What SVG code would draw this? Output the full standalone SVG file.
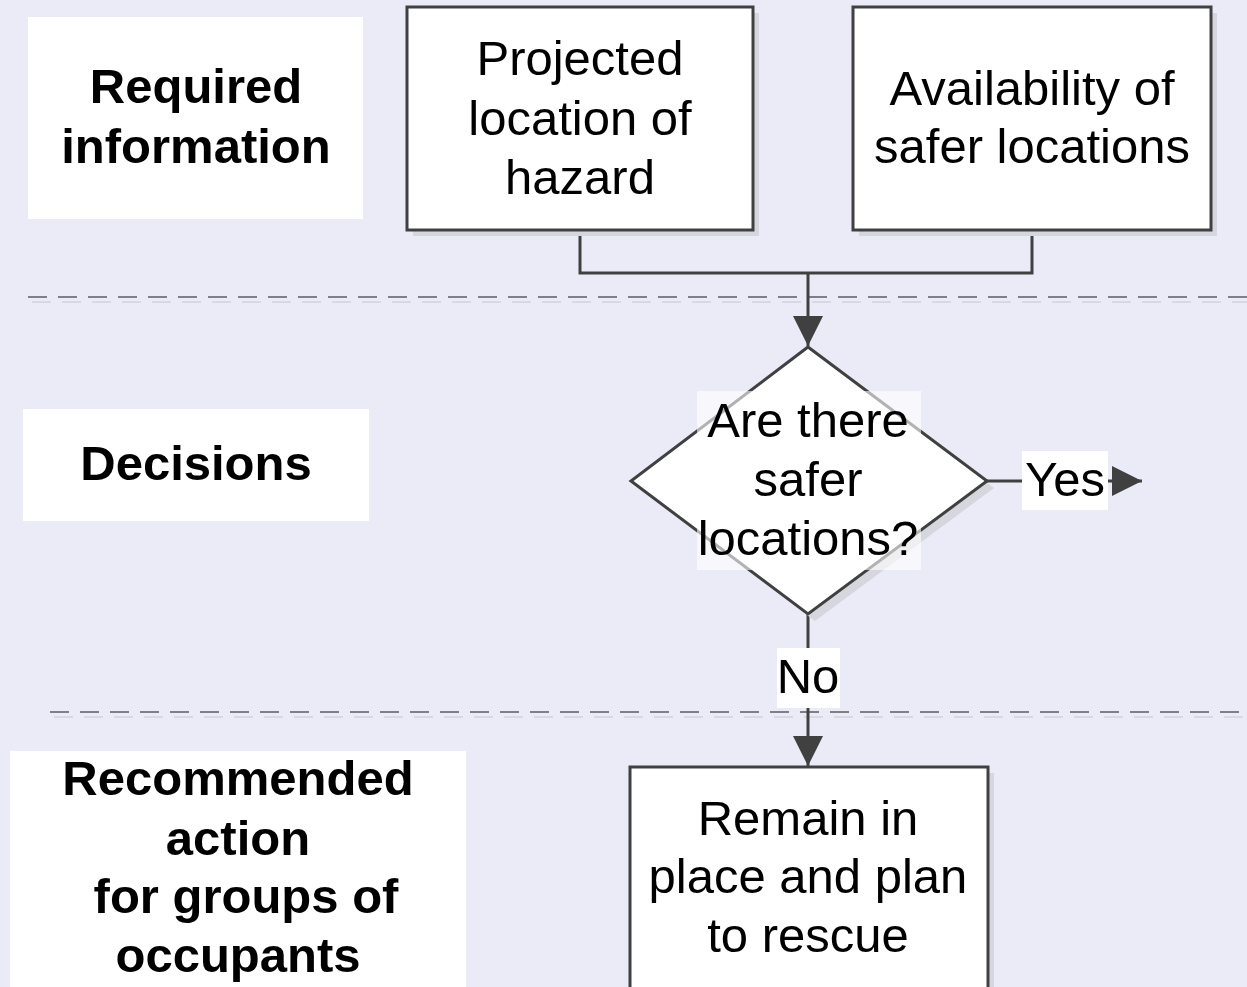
<svg xmlns="http://www.w3.org/2000/svg" width="1247" height="987" viewBox="0 0 1247 987">
<style>
.bg{fill:#EBEBF8}
.lab{fill:#FFFFFF}
.box{fill:#FFFFFF;stroke:#404040;stroke-width:3}
.shadow{fill:#D6D6DF}
.t{font-family:"Liberation Sans",Arial,sans-serif;font-size:49px;fill:#000;text-anchor:middle}
.b{font-weight:bold}
.conn{fill:none;stroke:#404040;stroke-width:3}
.dash{fill:none;stroke:#7F7F88;stroke-width:2;stroke-dasharray:19 11}
.dashs{fill:none;stroke:#D8D8E2;stroke-width:2;stroke-dasharray:19 11}
</style>
<defs>
<marker id="arr" markerUnits="userSpaceOnUse" markerWidth="32" markerHeight="30" refX="30" refY="15" orient="auto">
<path d="M0,0 L30,15 L0,30 Z" fill="#404040"/>
</marker>
</defs>
<rect class="bg" x="0" y="0" width="1247" height="987"/>

<g id="lane-lines">
<line class="dashs" x1="32" y1="302" x2="1247" y2="302"/>
<line class="dash" x1="28" y1="297" x2="1247" y2="297"/>
<line class="dashs" x1="54" y1="717" x2="1247" y2="717"/>
<line class="dash" x1="50" y1="712" x2="1247" y2="712"/>
</g>

<g id="lane-required">
<rect class="lab" x="28" y="17" width="335" height="202"/>
<text class="t b" x="196" y="103">Required</text>
<text class="t b" x="196" y="163">information</text>
</g>

<g id="lane-decisions">
<rect class="lab" x="23" y="409" width="346" height="112"/>
<text class="t b" x="196" y="480">Decisions</text>
</g>

<g id="lane-action">
<rect class="lab" x="10" y="751" width="456" height="240"/>
<text class="t b" x="238" y="795">Recommended</text>
<text class="t b" x="238" y="855">action</text>
<text class="t b" x="246" y="913">for groups of</text>
<text class="t b" x="238" y="972">occupants</text>
</g>

<g id="connectors">
<polyline class="conn" points="580,230 580,273 1032,273 1032,230"/>
<line class="conn" x1="808" y1="273" x2="808" y2="346" marker-end="url(#arr)"/>
<line class="conn" x1="987" y1="481" x2="1142" y2="481" marker-end="url(#arr)"/>
<line class="conn" x1="808" y1="614" x2="808" y2="766" marker-end="url(#arr)"/>
</g>

<g id="box-hazard">
<rect class="shadow" x="413" y="13" width="346" height="223"/>
<rect class="box" x="407" y="7" width="346" height="223"/>
<text class="t" x="580" y="75">Projected</text>
<text class="t" x="580" y="135">location of</text>
<text class="t" x="580" y="194">hazard</text>
</g>

<g id="box-availability">
<rect class="shadow" x="859" y="13" width="358" height="223"/>
<rect class="box" x="853" y="7" width="358" height="223"/>
<text class="t" x="1032" y="105">Availability of</text>
<text class="t" x="1032" y="163">safer locations</text>
</g>

<g id="decision">
<polygon class="shadow" points="815,354 994,488 815,621 638,488"/>
<polygon class="box" points="808,347 987,481 808,614 631,481"/>
<rect x="697" y="391" width="224" height="179" fill="#FFFFFF" fill-opacity="0.6"/>
<text class="t" x="808" y="437">Are there</text>
<text class="t" x="808" y="496">safer</text>
<text class="t" x="808" y="555">locations?</text>
</g>

<g id="label-yes">
<rect class="lab" x="1022" y="451" width="86" height="59"/>
<text class="t" x="1065" y="496">Yes</text>
</g>

<g id="label-no">
<rect class="lab" x="777" y="648" width="63" height="60"/>
<text class="t" x="808" y="693">No</text>
</g>

<g id="box-remain">
<rect class="shadow" x="636" y="773" width="358" height="230"/>
<rect class="box" x="630" y="767" width="358" height="230"/>
<text class="t" x="808" y="835">Remain in</text>
<text class="t" x="808" y="893">place and plan</text>
<text class="t" x="808" y="952">to rescue</text>
</g>
</svg>
